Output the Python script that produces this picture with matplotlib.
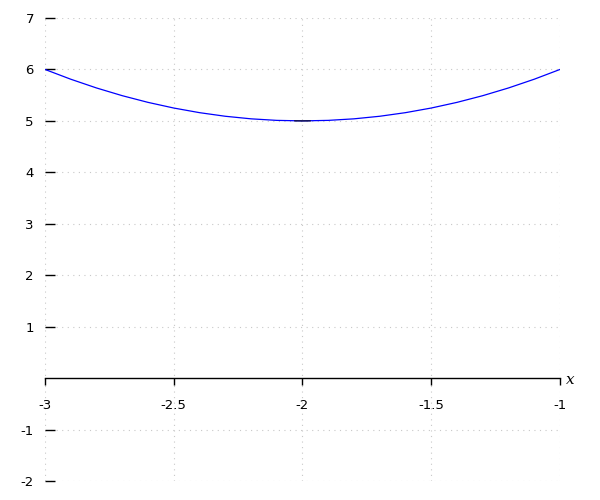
import matplotlib
matplotlib.use('Agg')
import matplotlib.pyplot as plt
import numpy as np

# curve
x_vals = [-3.0, -2.9, -2.8, -2.7, -2.6, -2.5, -2.4, -2.3, -2.2, -2.1, -2.0,
          -1.9, -1.8, -1.7, -1.6, -1.5, -1.4, -1.3, -1.2, -1.1, -1.0]
y_vals = [6.0, 5.81, 5.64, 5.49, 5.36, 5.25, 5.16, 5.09, 5.04, 5.01, 5.0,
          5.01, 5.04, 5.09, 5.16, 5.25, 5.36, 5.49, 5.64, 5.81, 6.0]
# short dark piece near the bottom of the curve
seg_x = [-2.03, -2.0, -1.97]
seg_y = [5.0009, 5.0, 5.0009]

x_ticks = [-3, -2.5, -2, -1.5, -1]
x_labels = ['-3', '-2.5', '-2', '-1.5', '-1']
y_ticks = [-2, -1, 1, 2, 3, 4, 5, 6, 7]
y_labels = ['-2', '-1', '1', '2', '3', '4', '5', '6', '7']

fig = plt.figure(figsize=(6, 5), dpi=100)
ax = fig.add_axes([0.075, 0.038, 0.8583, 0.926])

ax.plot(x_vals, y_vals, color='blue', lw=0.9)
ax.plot(seg_x, seg_y, color='#101030', lw=0.9)

ax.set_xlim(-3, -1)
ax.set_ylim(-2, 7)

for s in ['top', 'right', 'left']:
    ax.spines[s].set_visible(False)
ax.spines['bottom'].set_position(('data', 0))
ax.spines['bottom'].set_linewidth(1.0)

ax.set_xticks(x_ticks)
ax.set_xticklabels(x_labels)
ax.set_yticks(y_ticks)
ax.set_yticklabels(y_labels)
ax.tick_params(axis='x', direction='out', length=5, width=1, pad=10, labelsize=9.5)
ax.tick_params(axis='y', direction='in', length=7, width=1, pad=8, labelsize=9.5)

ax.grid(True, color='#c8c8c8', linestyle=(0, (1, 4)), lw=0.8)
ax.set_axisbelow(True)

ax.text(-0.975, -0.03, 'x', fontsize=11, style='italic', family='serif', va='center', ha='left')

fig.savefig('out.png', dpi=100)
